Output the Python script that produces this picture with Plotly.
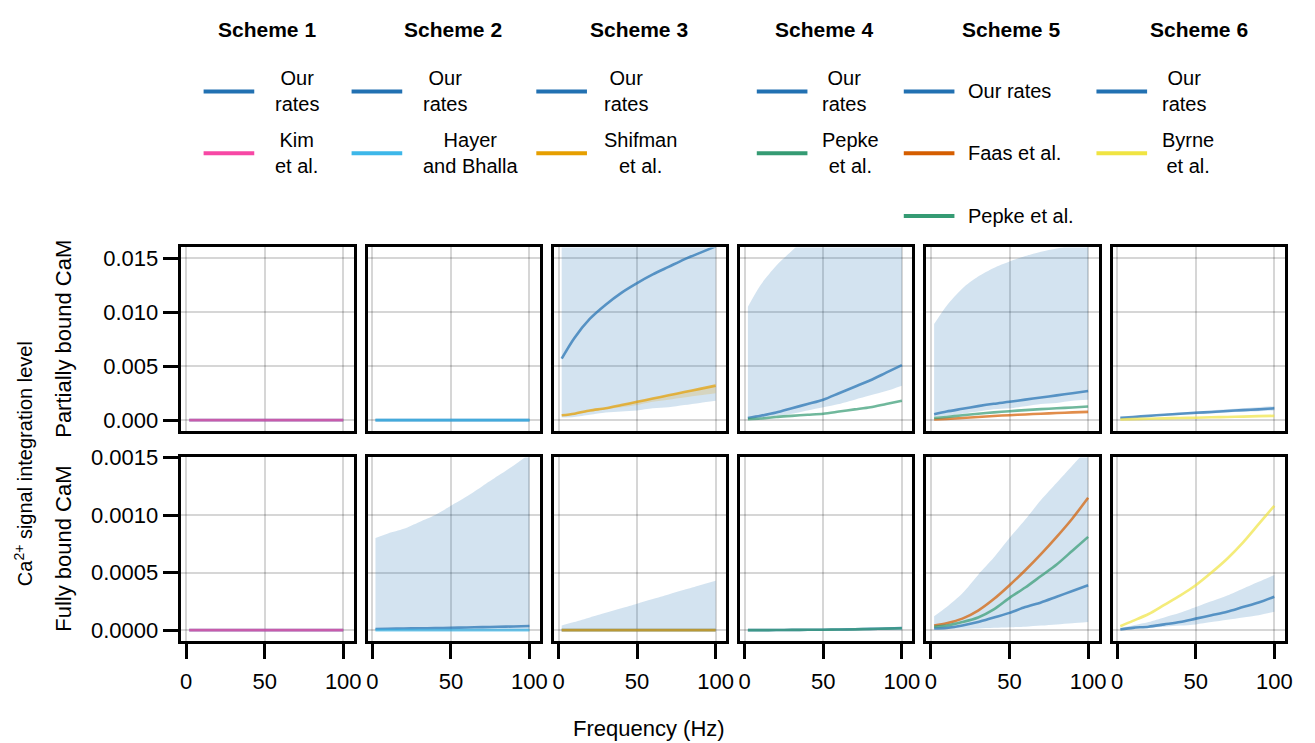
import plotly.graph_objects as go
from plotly.subplots import make_subplots

# ---------------- data ----------------
freq = [2, 10, 20, 30, 40, 50, 60, 70, 80, 90, 100]
schemes = ["Scheme 1", "Scheme 2", "Scheme 3", "Scheme 4", "Scheme 5", "Scheme 6"]
row_labels = ["Partially bound CaM", "Fully bound CaM"]
x_ticks = [0, 50, 100]
y_ticks_part = [0.0, 0.005, 0.010, 0.015]
y_ticklabels_part = ["0.000", "0.005", "0.010", "0.015"]
y_ticks_full = [0.0, 0.0005, 0.0010, 0.0015]
y_ticklabels_full = ["0.0000", "0.0005", "0.0010", "0.0015"]

# legend entries per scheme (label, colour key)
legend_s1 = [("Our<br>rates", "ours"), ("Kim<br>et al.", "kim")]
legend_s2 = [("Our<br>rates", "ours"), ("Hayer<br>and Bhalla", "hayer")]
legend_s3 = [("Our<br>rates", "ours"), ("Shifman<br>et al.", "shifman")]
legend_s4 = [("Our<br>rates", "ours"), ("Pepke<br>et al.", "pepke")]
legend_s5 = [("Our rates", "ours"), ("Faas et al.", "faas"), ("Pepke et al.", "pepke")]
legend_s6 = [("Our<br>rates", "ours"), ("Byrne<br>et al.", "byrne")]

# --- partially bound CaM (top row) ---
s1_part_ours = [0, 0, 0, 0, 0, 0, 0, 0, 0, 0, 0]
s1_part_kim = [0, 0, 0, 0, 0, 0, 0, 0, 0, 0, 0]
s2_part_ours = [0, 0, 0, 0, 0, 0, 0, 0, 0, 0, 0]
s2_part_hayer = [0, 0, 0, 0, 0, 0, 0, 0, 0, 0, 0]
s3_part_ours = [0.0057, 0.0076, 0.0094, 0.0107, 0.0118, 0.0127, 0.0135, 0.0142, 0.0149, 0.0155, 0.0161]
s3_part_ours_lo = [0.00025, 0.0003, 0.0005, 0.0007, 0.0008, 0.0009, 0.0011, 0.0012, 0.0014, 0.0016, 0.0018]
s3_part_ours_hi = [0.020, 0.022, 0.024, 0.026, 0.028, 0.030, 0.031, 0.032, 0.033, 0.034, 0.035]
s3_part_shifman = [0.00045, 0.0006, 0.0009, 0.0011, 0.0014, 0.0017, 0.0020, 0.0023, 0.0026, 0.0029, 0.0032]
s3_part_shifman_lo = [0.0004, 0.0005, 0.0008, 0.0010, 0.0012, 0.0014, 0.0017, 0.0019, 0.0021, 0.0023, 0.0025]
s4_part_ours = [0.0002, 0.0004, 0.0007, 0.0011, 0.0015, 0.0019, 0.0025, 0.0031, 0.0037, 0.0044, 0.0051]
s4_part_ours_lo = [0.0001, 0.0002, 0.0004, 0.0006, 0.0009, 0.0012, 0.0015, 0.0019, 0.0023, 0.0027, 0.0032]
s4_part_ours_hi = [0.0105, 0.0125, 0.0143, 0.0157, 0.0170, 0.0180, 0.0190, 0.0198, 0.0206, 0.0213, 0.0220]
s4_part_pepke = [0.0001, 0.00015, 0.0003, 0.0004, 0.0005, 0.0006, 0.0008, 0.0010, 0.0012, 0.0015, 0.0018]
s5_part_ours = [0.00055, 0.0008, 0.00105, 0.0013, 0.00152, 0.0017, 0.0019, 0.0021, 0.0023, 0.0025, 0.0027]
s5_part_ours_lo = [0.0003, 0.0004, 0.0006, 0.0008, 0.0010, 0.0011, 0.0013, 0.0015, 0.0016, 0.0018, 0.0019]
s5_part_ours_hi = [0.0089, 0.0106, 0.0122, 0.0133, 0.0141, 0.0147, 0.0152, 0.0156, 0.0159, 0.0162, 0.0165]
s5_part_faas = [0.00006, 0.00012, 0.0002, 0.0003, 0.00039, 0.00046, 0.00053, 0.0006, 0.00066, 0.00072, 0.00077]
s5_part_pepke = [0.0002, 0.0003, 0.00045, 0.0006, 0.00072, 0.00083, 0.00093, 0.00102, 0.0011, 0.00118, 0.00126]
s6_part_ours = [0.00022, 0.0003, 0.0004, 0.0005, 0.0006, 0.00068, 0.00076, 0.00085, 0.00093, 0.0010, 0.0011]
s6_part_ours_lo = [0.00018, 0.00025, 0.00033, 0.0004, 0.00048, 0.00055, 0.00062, 0.0007, 0.00077, 0.00083, 0.0009]
s6_part_ours_hi = [0.00027, 0.00036, 0.00047, 0.00058, 0.0007, 0.0008, 0.0009, 0.001, 0.0011, 0.0012, 0.0013]
s6_part_byrne = [0.00006, 0.0001, 0.00013, 0.00017, 0.0002, 0.00023, 0.00027, 0.0003, 0.00033, 0.00037, 0.0004]

# --- fully bound CaM (bottom row) ---
s1_full_ours = [0, 0, 0, 0, 0, 0, 0, 0, 0, 0, 0]
s1_full_kim = [0, 0, 0, 0, 0, 0, 0, 0, 0, 0, 0]
s2_full_ours = [0.00001, 0.000012, 0.000014, 0.000016, 0.000018, 0.00002, 0.000023, 0.000026, 0.000029, 0.000032, 0.000036]
s2_full_ours_lo = [0, 0, 0, 0, 0, 0, 0, 0, 0, 0, 0]
s2_full_ours_hi = [0.0008, 0.00084, 0.00088, 0.00094, 0.0010, 0.00108, 0.00116, 0.00125, 0.00134, 0.00143, 0.00153]
s2_full_hayer = [0, 0, 0, 0, 0, 0, 0, 0, 0, 0, 0]
s3_full_ours = [0, 0, 0, 0, 0, 0, 0, 0, 0, 0, 0]
s3_full_ours_lo = [0, 0, 0, 0, 0, 0, 0, 0, 0, 0, 0]
s3_full_ours_hi = [0.00004, 0.00007, 0.00011, 0.00015, 0.00019, 0.00023, 0.00027, 0.00031, 0.00035, 0.00039, 0.00043]
s3_full_shifman = [0, 0, 0, 0, 0, 0, 0, 0, 0, 0, 0]
s4_full_ours = [0, 0, 0.000001, 0.000002, 0.000003, 0.000004, 0.000006, 0.000008, 0.000011, 0.000014, 0.000018]
s4_full_ours_lo = [0, 0, 0, 0, 0, 0, 0, 0, 0, 0, 0]
s4_full_ours_hi = [0, 0.000001, 0.000002, 0.000004, 0.000006, 0.000008, 0.000011, 0.000015, 0.00002, 0.000025, 0.00003]
s4_full_pepke = [0, 0, 0.000001, 0.000002, 0.000003, 0.000004, 0.000005, 0.000007, 0.00001, 0.000013, 0.000016]
s5_full_ours = [0.000014, 0.00002, 0.00004, 0.00007, 0.00011, 0.00015, 0.0002, 0.00024, 0.00029, 0.00034, 0.00039]
s5_full_ours_lo = [0.00001, 0.00001, 0.000012, 0.000015, 0.00002, 0.000025, 0.00003, 0.00004, 0.00005, 0.00006, 0.00007]
s5_full_ours_hi = [0.00012, 0.0002, 0.00032, 0.00048, 0.00063, 0.0008, 0.00096, 0.00113, 0.00128, 0.00143, 0.00158]
s5_full_faas = [0.00004, 0.00006, 0.0001, 0.00017, 0.00027, 0.00039, 0.00052, 0.00066, 0.00081, 0.00097, 0.00115]
s5_full_pepke = [0.00003, 0.00004, 0.00007, 0.00011, 0.00018, 0.00028, 0.00037, 0.00047, 0.00057, 0.00069, 0.00081]
s6_full_ours = [0.000006, 0.00002, 0.00003, 0.00005, 0.00007, 0.0001, 0.00013, 0.00016, 0.0002, 0.00024, 0.00029]
s6_full_ours_lo = [0.000003, 0.00001, 0.00002, 0.00003, 0.00004, 0.00005, 0.00007, 0.00009, 0.00011, 0.00013, 0.00016]
s6_full_ours_hi = [0.00002, 0.00004, 0.00007, 0.00011, 0.00015, 0.0002, 0.00025, 0.0003, 0.00036, 0.00042, 0.00048]
s6_full_byrne = [0.000034, 0.00008, 0.00014, 0.00022, 0.0003, 0.00039, 0.0005, 0.00062, 0.00076, 0.00092, 0.00108]

# ---------------- style ----------------
COLORS = {
    "ours": "#2271B2", "kim": "#F748A5", "hayer": "#3DB7E9", "shifman": "#E69F00",
    "pepke": "#359B73", "faas": "#D55E00", "byrne": "#F0E442",
}
BAND = {"ours": "rgba(34,113,178,0.2)", "shifman": "rgba(230,159,0,0.2)"}
FONT = "Liberation Sans, Arial, sans-serif"
FS_TICK = 22
FS_LAB = 22
FS_SUP = 20
FS_TITLE = 21
FS_LEG = 20
W, H = 1315, 743

def px(x):
    return x / W

def py(y):
    return 1 - y / H

# panel geometry (pixels)
col_left = [181.7, 369.2, 556.7, 744.2, 931.7, 1119.2]
col_w = 173.5
row_top = [240, 454]
row_h = 187

panels = {
    (0, 0): ([(s1_part_ours, "ours"), (s1_part_kim, "kim")], []),
    (0, 1): ([(s2_part_ours, "ours"), (s2_part_hayer, "hayer")], []),
    (0, 2): ([(s3_part_ours, "ours"), (s3_part_shifman, "shifman")],
             [(s3_part_ours_lo, s3_part_ours_hi, "ours"), (s3_part_shifman_lo, s3_part_shifman, "shifman")]),
    (0, 3): ([(s4_part_ours, "ours"), (s4_part_pepke, "pepke")], [(s4_part_ours_lo, s4_part_ours_hi, "ours")]),
    (0, 4): ([(s5_part_ours, "ours"), (s5_part_faas, "faas"), (s5_part_pepke, "pepke")],
             [(s5_part_ours_lo, s5_part_ours_hi, "ours")]),
    (0, 5): ([(s6_part_ours, "ours"), (s6_part_byrne, "byrne")], [(s6_part_ours_lo, s6_part_ours_hi, "ours")]),
    (1, 0): ([(s1_full_ours, "ours"), (s1_full_kim, "kim")], []),
    (1, 1): ([(s2_full_ours, "ours"), (s2_full_hayer, "hayer")], [(s2_full_ours_lo, s2_full_ours_hi, "ours")]),
    (1, 2): ([(s3_full_ours, "ours"), (s3_full_shifman, "shifman")], [(s3_full_ours_lo, s3_full_ours_hi, "ours")]),
    (1, 3): ([(s4_full_ours, "ours"), (s4_full_pepke, "pepke")], [(s4_full_ours_lo, s4_full_ours_hi, "ours")]),
    (1, 4): ([(s5_full_ours, "ours"), (s5_full_faas, "faas"), (s5_full_pepke, "pepke")],
             [(s5_full_ours_lo, s5_full_ours_hi, "ours")]),
    (1, 5): ([(s6_full_ours, "ours"), (s6_full_byrne, "byrne")], [(s6_full_ours_lo, s6_full_ours_hi, "ours")]),
}

fig = make_subplots(rows=2, cols=6)

for (r, c), (lines, bands) in panels.items():
    for lo, hi, key in bands:
        fig.add_trace(go.Scatter(x=freq, y=lo, mode="lines", line=dict(width=0, shape="spline", smoothing=0.8),
                                 showlegend=False, hoverinfo="skip"), row=r + 1, col=c + 1)
        fig.add_trace(go.Scatter(x=freq, y=hi, mode="lines", fill="tonexty", fillcolor=BAND[key],
                                 line=dict(width=0, shape="spline", smoothing=0.8),
                                 showlegend=False, hoverinfo="skip"), row=r + 1, col=c + 1)
    for y, key in lines:
        fig.add_trace(go.Scatter(x=freq, y=y, mode="lines", opacity=0.7,
                                 line=dict(color=COLORS[key], width=2.6, shape="spline", smoothing=0.8),
                                 showlegend=False), row=r + 1, col=c + 1)

axis_common = dict(showline=True, linecolor="black", linewidth=2.6, mirror=True,
                   showgrid=True, gridcolor="rgba(0,0,0,0.16)", gridwidth=2, zeroline=False,
                   tickfont=dict(family=FONT, size=FS_TICK, color="black"))

for r in range(2):
    for c in range(6):
        idx = r * 6 + c + 1
        sfx = "" if idx == 1 else str(idx)
        x0 = col_left[c]
        y0 = row_top[r]
        xa = dict(axis_common, domain=[px(x0), px(x0 + col_w)], range=[-2.95, 106.7],
                  tickvals=x_ticks, ticktext=["0", "50", "100"])
        if r == 1:
            xa.update(ticks="outside", ticklen=15, tickwidth=2.6, tickcolor="black",
                      showticklabels=True, ticklabelstandoff=4)
        else:
            xa.update(ticks="", showticklabels=False)
        if r == 0:
            ya = dict(axis_common, domain=[py(y0 + row_h), py(y0)], range=[-0.001, 0.016],
                      tickvals=y_ticks_part, ticktext=y_ticklabels_part)
        else:
            ya = dict(axis_common, domain=[py(y0 + row_h), py(y0)], range=[-0.0000937, 0.0015],
                      tickvals=y_ticks_full, ticktext=y_ticklabels_full)
        if c == 0:
            ya.update(ticks="outside", ticklen=16, tickwidth=2.6, tickcolor="black", showticklabels=True)
        else:
            ya.update(ticks="", showticklabels=False)
        fig.layout["xaxis" + sfx].update(xa)
        fig.layout["yaxis" + sfx].update(ya)

annotations = []
shapes = []

# column titles
title_x = [268, 455, 642, 829, 1017, 1206]
for c, name in enumerate(schemes):
    annotations.append(dict(x=px(title_x[c]), y=py(18), xref="paper", yref="paper",
                            text="<b>" + name + "</b>", showarrow=False,
                            font=dict(family=FONT, size=FS_TITLE, color="black"),
                            xanchor="center", yanchor="middle"))

# legends
legends = [legend_s1, legend_s2, legend_s3, legend_s4, legend_s5, legend_s6]
leg_line_x = [204, 353, 539, 761, 909, 1103]
leg_text_x = [274, 423, 605, 825, 972, 1167]
leg_row_y = [81, 144, 208]
for c, entries in enumerate(legends):
    for i, (label, key) in enumerate(entries):
        yy = leg_row_y[i]
        shapes.append(dict(type="line", xref="paper", yref="paper",
                           x0=px(leg_line_x[c]), x1=px(leg_line_x[c] + 51),
                           y0=py(yy), y1=py(yy), line=dict(color=COLORS[key], width=4)))
        annotations.append(dict(x=px(leg_text_x[c]), y=py(yy), xref="paper", yref="paper",
                                text=label, showarrow=False, align="center",
                                font=dict(family=FONT, size=FS_LEG, color="black"),
                                xanchor="left", yanchor="middle"))

# axis labels
annotations.append(dict(x=px(63), y=py(row_top[0] + row_h / 2), xref="paper", yref="paper",
                        text=row_labels[0], textangle=-90, showarrow=False,
                        font=dict(family=FONT, size=FS_LAB, color="black"),
                        xanchor="center", yanchor="middle"))
annotations.append(dict(x=px(63), y=py(row_top[1] + row_h / 2), xref="paper", yref="paper",
                        text=row_labels[1], textangle=-90, showarrow=False,
                        font=dict(family=FONT, size=FS_LAB, color="black"),
                        xanchor="center", yanchor="middle"))
annotations.append(dict(x=px(22), y=py(460), xref="paper", yref="paper",
                        text="Ca<sup>2+</sup> signal integration level", textangle=-90, showarrow=False,
                        font=dict(family=FONT, size=FS_SUP, color="black"),
                        xanchor="center", yanchor="middle"))
annotations.append(dict(x=px(652), y=py(730), xref="paper", yref="paper",
                        text="Frequency (Hz)", showarrow=False,
                        font=dict(family=FONT, size=FS_LAB, color="black"),
                        xanchor="center", yanchor="middle"))

fig.update_layout(width=W, height=H, margin=dict(l=0, r=0, t=0, b=0),
                  plot_bgcolor="white", paper_bgcolor="white", showlegend=False,
                  annotations=annotations, shapes=shapes,
                  font=dict(family=FONT, size=FS_TICK, color="black"))

fig.write_html("out.html")
